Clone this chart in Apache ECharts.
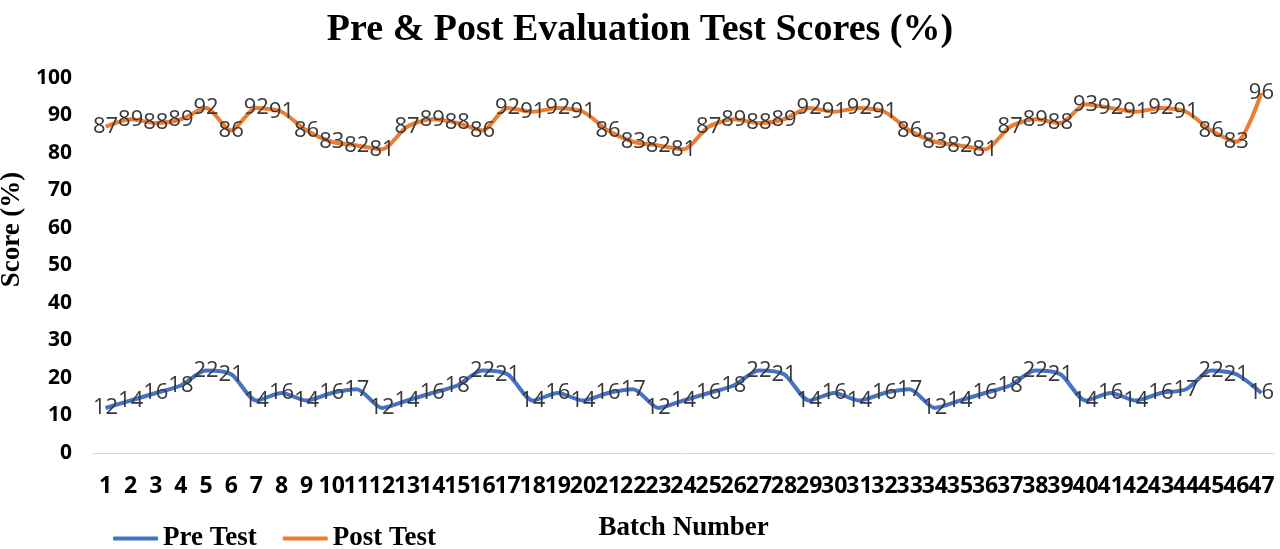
<!DOCTYPE html>
<html>
<head>
<meta charset="utf-8">
<script src="https://cdn.jsdelivr.net/npm/echarts@6/dist/echarts.min.js"></script>
<style>
html, body { margin: 0; padding: 0; background: #fff; }
#main { width: 1280px; height: 549px; }
</style>
</head>
<body>
<div id="main"></div>
<script>
// batch numbers
var batches = [];
for (var i = 1; i <= 47; i++) {
	batches.push(String(i));
}

var preTest = [12, 14, 16, 18, 22, 21, 14, 16, 14, 16, 17, 12, 14, 16, 18, 22, 21, 14, 16, 14, 16, 17, 12, 14,
	16, 18, 22, 21, 14, 16, 14, 16, 17, 12, 14, 16, 18, 22, 21, 14, 16, 14, 16, 17, 22, 21, 16];

var postTest = [87, 89, 88, 89, 92, 86, 92, 91, 86, 83, 82, 81, 87, 89, 88, 86, 92, 91, 92, 91, 86, 83, 82, 81,
	87, 89, 88, 89, 92, 91, 92, 91, 86, 83, 82, 81, 87, 89, 88, 93, 92, 91, 92, 91, 86, 83, 96];

var serif = '"Liberation Serif", "DejaVu Serif", serif';
var sans = '"Open Sans", "Liberation Sans", sans-serif';
var narrow = '"Liberation Sans Narrow", "Open Sans", sans-serif';

//数据标签
function lbl() {
	return {
		show: true,
		position: 'inside',
		color: '#383838',
		fontFamily: sans,
		fontSize: 22
	};
}

var myChart = echarts.init(document.getElementById('main'));
myChart.setOption({
	backgroundColor: '#fff',
	title: {
		text: 'Pre & Post Evaluation Test Scores (%)',
		left: 'center',
		top: 6,
		textStyle: {
			fontFamily: serif,
			fontWeight: 'bold',
			fontSize: 38,
			color: '#000'
		}
	},
	legend: {
		left: 108,
		top: 520,
		itemWidth: 45,
		itemHeight: 4,
		itemGap: 26,
		icon: 'roundRect',
		textStyle: {
			fontFamily: serif,
			fontWeight: 'bold',
			fontSize: 27,
			color: '#000'
		},
		data: ['Pre Test', 'Post Test']
	},
	grid: {
		left: 93,
		right: 6,
		top: 78,
		bottom: 96,
		containLabel: false,
		outerBoundsMode: 'none'
	},
	xAxis: {
		type: 'category',
		data: batches,
		boundaryGap: true,
		name: 'Batch Number',
		nameLocation: 'middle',
		nameGap: 62,
		nameTextStyle: {
			fontFamily: serif,
			fontWeight: 'bold',
			fontSize: 27,
			color: '#000'
		},
		axisLine: {
			lineStyle: {
				color: '#d9d9d9',
				width: 1
			}
		},
		axisTick: {
			show: false
		},
		axisLabel: {
			interval: 0,
			margin: 22,
			fontFamily: narrow,
			fontWeight: 'bold',
			fontSize: 23,
			color: '#000'
		}
	},
	yAxis: {
		type: 'value',
		min: 0,
		max: 100,
		interval: 10,
		name: 'Score (%)',
		nameLocation: 'middle',
		nameGap: 58,
		nameTextStyle: {
			fontFamily: serif,
			fontWeight: 'bold',
			fontSize: 27,
			color: '#000',
			padding: [0, 0, 0, 72]
		},
		axisLine: {
			show: false
		},
		axisTick: {
			show: false
		},
		splitLine: {
			show: false
		},
		axisLabel: {
			margin: 21,
			fontFamily: sans,
			fontWeight: 'bold',
			fontSize: 21,
			color: '#000'
		}
	},
	series: [{
		name: 'Pre Test',
		type: 'line',
		data: preTest,
		smooth: 0.25,
		showSymbol: true,
		symbol: 'circle',
		symbolSize: 0.1,
		color: '#4472c4',
		lineStyle: {
			width: 4,
			color: '#4472c4'
		},
		label: lbl()
	}, {
		name: 'Post Test',
		type: 'line',
		data: postTest,
		smooth: 0.25,
		showSymbol: true,
		symbol: 'circle',
		symbolSize: 0.1,
		color: '#ed7d31',
		lineStyle: {
			width: 4,
			color: '#ed7d31'
		},
		label: lbl()
	}]
});
</script>
</body>
</html>
